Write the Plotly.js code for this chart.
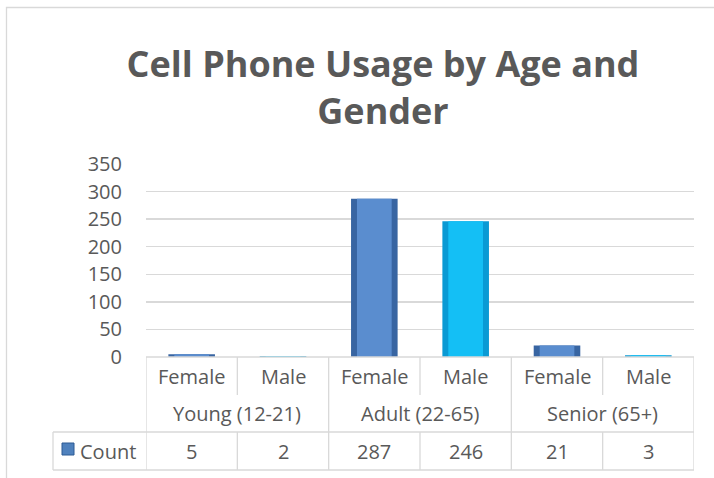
<!DOCTYPE html>
<html>
<head>
<meta charset="utf-8">
<script src="https://cdn.plot.ly/plotly-3.0.1.min.js"></script>
<style>html,body{margin:0;padding:0;background:#fff;}#chart{width:714px;height:478px;}</style>
</head>
<body>
<div id="chart"></div>
<script>
// ---- data ----
var groups = ["Young (12-21)", "Adult (22-65)", "Senior (65+)"];
var genders = ["Female", "Male", "Female", "Male", "Female", "Male"];
var counts = [5, 2, 287, 246, 21, 3];
var seriesName = "Count";
var yTicks = [0, 50, 100, 150, 200, 250, 300, 350];

// ---- layout geometry (pixels) ----
var W = 714, H = 478;
var plotL = 146, plotR = 694, plotT = 164, plotB = 357;
var plotH = plotB - plotT, plotW = plotR - plotL;
function py(p) { return (plotB - p) / plotH; }
function px(p) { return (p - plotL) / plotW; }

var txt = "#595959", grid = "#d9d9d9";
var font = "Open Sans, Noto Sans, sans-serif";

var idx = counts.map(function (_, i) { return i; });
var edgeCol = genders.map(function (g) { return g === "Female" ? "#3865a2" : "#0a9ad4"; });
var fillCol = genders.map(function (g) { return g === "Female" ? "#5a8dcf" : "#14bff5"; });

var traces = [
  { type: "bar", x: idx, y: counts, width: 0.51, marker: { color: edgeCol, line: { width: 0 } }, hoverinfo: "skip", showlegend: false, name: seriesName },
  { type: "bar", x: idx, y: counts, width: 0.38, marker: { color: fillCol, line: { width: 0 } }, showlegend: false, name: seriesName }
];

var shapes = [];
var annotations = [];
function hline(y, x0, x1) { shapes.push({ type: "line", xref: "paper", yref: "paper", x0: px(x0), x1: px(x1), y0: py(y), y1: py(y), line: { color: grid, width: 1.3 } }); }
function vlineX(xi, y0, y1) { shapes.push({ type: "line", xref: "x", yref: "paper", x0: xi, x1: xi, y0: py(y0), y1: py(y1), line: { color: grid, width: 1.3 } }); }

// outer chart border
shapes.push({ type: "rect", xref: "paper", yref: "paper", x0: px(6.5), x1: px(730), y0: py(7.5), y1: py(500), line: { color: grid, width: 1.3 }, fillcolor: "rgba(0,0,0,0)" });

var rowCatY = 376, rowGrpY = 413, rowValY = 451;
var tabTop = 357, catBot = 395, grpBot = 432, tabBot = 470;

hline(tabTop, plotL, plotR);
hline(grpBot, 53, plotR);
hline(tabBot, 53, plotR);
shapes.push({ type: "line", xref: "paper", yref: "paper", x0: px(53), x1: px(53), y0: py(grpBot), y1: py(tabBot), line: { color: grid, width: 1.3 } });
vlineX(-0.5, tabTop, tabBot);
for (var i = 0; i < counts.length; i++) {
  var xb = i + 0.5;
  if (i % 2 === 1) { vlineX(xb, tabTop, tabBot); }
  else { vlineX(xb, tabTop, catBot); vlineX(xb, grpBot, tabBot); }
}

var cellFont = { family: font, size: 20, color: txt };
for (var i = 0; i < genders.length; i++) {
  annotations.push({ xref: "x", yref: "paper", x: i, y: py(rowCatY), text: genders[i], showarrow: false, font: cellFont, xanchor: "center", yanchor: "middle" });
  annotations.push({ xref: "x", yref: "paper", x: i, y: py(rowValY), text: String(counts[i]), showarrow: false, font: cellFont, xanchor: "center", yanchor: "middle" });
}
for (var g = 0; g < groups.length; g++) {
  annotations.push({ xref: "x", yref: "paper", x: g * 2 + 0.5, y: py(rowGrpY), text: groups[g], showarrow: false, font: cellFont, xanchor: "center", yanchor: "middle" });
}
// legend key in table
shapes.push({ type: "rect", xref: "paper", yref: "paper", x0: px(62), x1: px(74), y0: py(443), y1: py(455), fillcolor: "#4f81bd", line: { color: "#2c5a94", width: 1 } });
annotations.push({ xref: "paper", yref: "paper", x: px(78), y: py(rowValY), text: seriesName, showarrow: false, font: cellFont, xanchor: "left", yanchor: "middle" });

var layout = {
  width: W, height: H,
  margin: { l: plotL, r: W - plotR, t: plotT, b: H - plotB, pad: 0 },
  paper_bgcolor: "#ffffff", plot_bgcolor: "#ffffff",
  title: { text: "Cell Phone Usage by Age and<br>Gender", font: { family: font, size: 36, color: txt, weight: "bold" }, x: 383 / W, xanchor: "center", y: 1 - 77 / H, yanchor: "middle", xref: "container", yref: "container" },
  barmode: "overlay",
  xaxis: { range: [-0.5, counts.length - 0.5], showticklabels: false, showgrid: false, zeroline: false, showline: false, ticks: "", fixedrange: true },
  yaxis: { range: [0, 350], tickvals: yTicks, ticktext: yTicks.map(String), showgrid: true, gridcolor: grid, gridwidth: 1.3, zeroline: false, showline: false, ticks: "", ticklabelstandoff: 23, tickfont: { family: font, size: 20, color: txt }, fixedrange: true },
  shapes: shapes,
  annotations: annotations,
  showlegend: false
};

Plotly.newPlot("chart", traces, layout, { displayModeBar: false, staticPlot: true });
</script>
</body>
</html>
